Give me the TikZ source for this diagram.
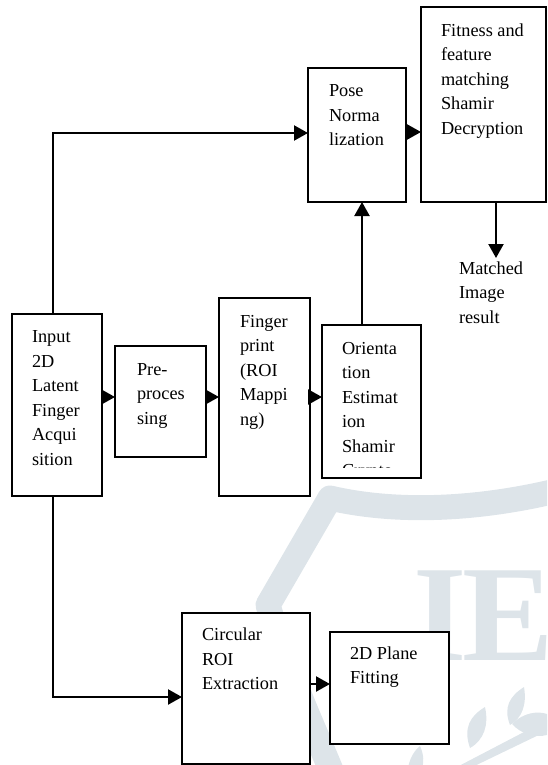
\documentclass[tikz,border=0pt]{standalone}
\usepackage{fontspec}
\setmainfont{Liberation Serif}
\usetikzlibrary{arrows.meta}
\definecolor{wm}{RGB}{221,228,233}
\tikzset{
  box/.style={draw=black, line width=1.8pt, fill=white, inner sep=0pt, outer sep=0pt, rectangle},
  txt/.style={inner sep=0pt, outer sep=0pt, anchor=north west, align=left, font=\fontsize{18.3}{24.5}\selectfont},
  arr/.style={line width=2.2pt, -{Triangle[length=14pt,width=15pt]}},
  wmband/.style={draw=wm, line width=25pt, line join=round},
  wmtxt/.style={inner sep=0pt, anchor=base west, text=wm, font=\fontsize{137}{137}\selectfont\bfseries}
}
\begin{document}
\begin{tikzpicture}[x=1pt,y=-1pt]
\useasboundingbox (0,0) rectangle (547,765);
% watermark
\begin{scope}
\clip (0,0) rectangle (547,765);
\draw[wmband] (560,490) .. controls (470,512) and (390,512) .. (330,498) -- (268,605) .. controls (290,680) and (315,730) .. (335,780);
\node[wmtxt] (wmI) at (413,660) {I};
\node[wmtxt] (wmE) at (462,660) {E};
\fill[wm] (455,768) -- (547,720) -- (547,731) -- (462,772) -- cycle;
\fill[wm] (510,725) .. controls (503,707) and (510,696) .. (524,687) .. controls (527,705) and (522,718) .. (510,725) -- cycle;
\fill[wm] (470,748) .. controls (463,728) and (470,716) .. (485,707) .. controls (489,725) and (484,740) .. (470,748) -- cycle;
\fill[wm] (512,724) .. controls (524,712) and (538,711) .. (547,714) -- (547,735) .. controls (535,738) and (521,734) .. (512,724) -- cycle;
\fill[wm] (408,768) .. controls (410,757) and (415,750) .. (420,746) .. controls (424,755) and (424,762) .. (422,768) -- cycle;
\end{scope}
% boxes
\node[box, minimum width=90pt, minimum height=182pt] (inp) at (57,405) {};
\node[box, minimum width=91pt, minimum height=111pt] (pre) at (160.5,401.5) {};
\node[box, minimum width=91pt, minimum height=198pt] (fng) at (264.5,397) {};
\node[box, minimum width=99pt, minimum height=153pt] (ori) at (371.5,401.5) {};
\node[box, minimum width=98pt, minimum height=134pt] (pose) at (357,135) {};
\node[box, minimum width=125pt, minimum height=195pt] (fit) at (483.5,104.5) {};
\node[box, minimum width=128pt, minimum height=151pt] (circ) at (246,688.5) {};
\node[box, minimum width=119pt, minimum height=112pt] (plane) at (389.5,688) {};
% texts
\node[txt] (tinp) at (32,325.5) {\strut Input\\2D\\Latent\\Finger\\Acqui\\sition};
\node[txt] (tpre) at (137,358) {\strut Pre-\\proces\\sing};
\node[txt] (tfng) at (240,310) {\strut Finger\\print\\(ROI\\Mappi\\ng)};
\begin{scope}
\clip (323,326) rectangle (420,467);
\node[txt] (tori) at (342,337) {\strut Orienta\\tion\\Estimat\\ion\\Shamir\\Crypto};
\end{scope}
\node[txt] (tpose) at (329,79.5) {\strut Pose\\Norma\\lization};
\node[txt] (tfit) at (441,19) {\strut Fitness and\\feature\\matching\\Shamir\\Decryption};
\node[txt] (tcirc) at (202,623.5) {\strut Circular\\ROI\\Extraction};
\node[txt] (tplane) at (350,642) {\strut 2D Plane\\Fitting};
\node[txt] (tmatch) at (459,257) {\strut Matched\\Image\\result};
% connectors
\coordinate (j1) at (53,133);
\coordinate (j2) at (53,697);
\coordinate (r1) at (0,397);
\coordinate (r2) at (0,132);
\coordinate (r3) at (0,684);
\coordinate (v1) at (362,0);
\coordinate (m) at (496,258);
\draw[arr] (inp.north -| j1) -- (j1) -- (pose.west |- j1);
\draw[arr] (inp.south -| j2) -- (j2) -- (circ.west |- j2);
\draw[arr] (inp.east |- r1) -- (pre.west |- r1);
\draw[arr] (pre.east |- r1) -- (fng.west |- r1);
\draw[arr] (fng.east |- r1) -- (ori.west |- r1);
\draw[arr] (ori.north -| v1) -- (pose.south -| v1);
\draw[arr] (pose.east |- r2) -- (fit.west |- r2);
\draw[arr] (fit.south -| m) -- (m);
\draw[arr] (circ.east |- r3) -- (plane.west |- r3);
\end{tikzpicture}
\end{document}
